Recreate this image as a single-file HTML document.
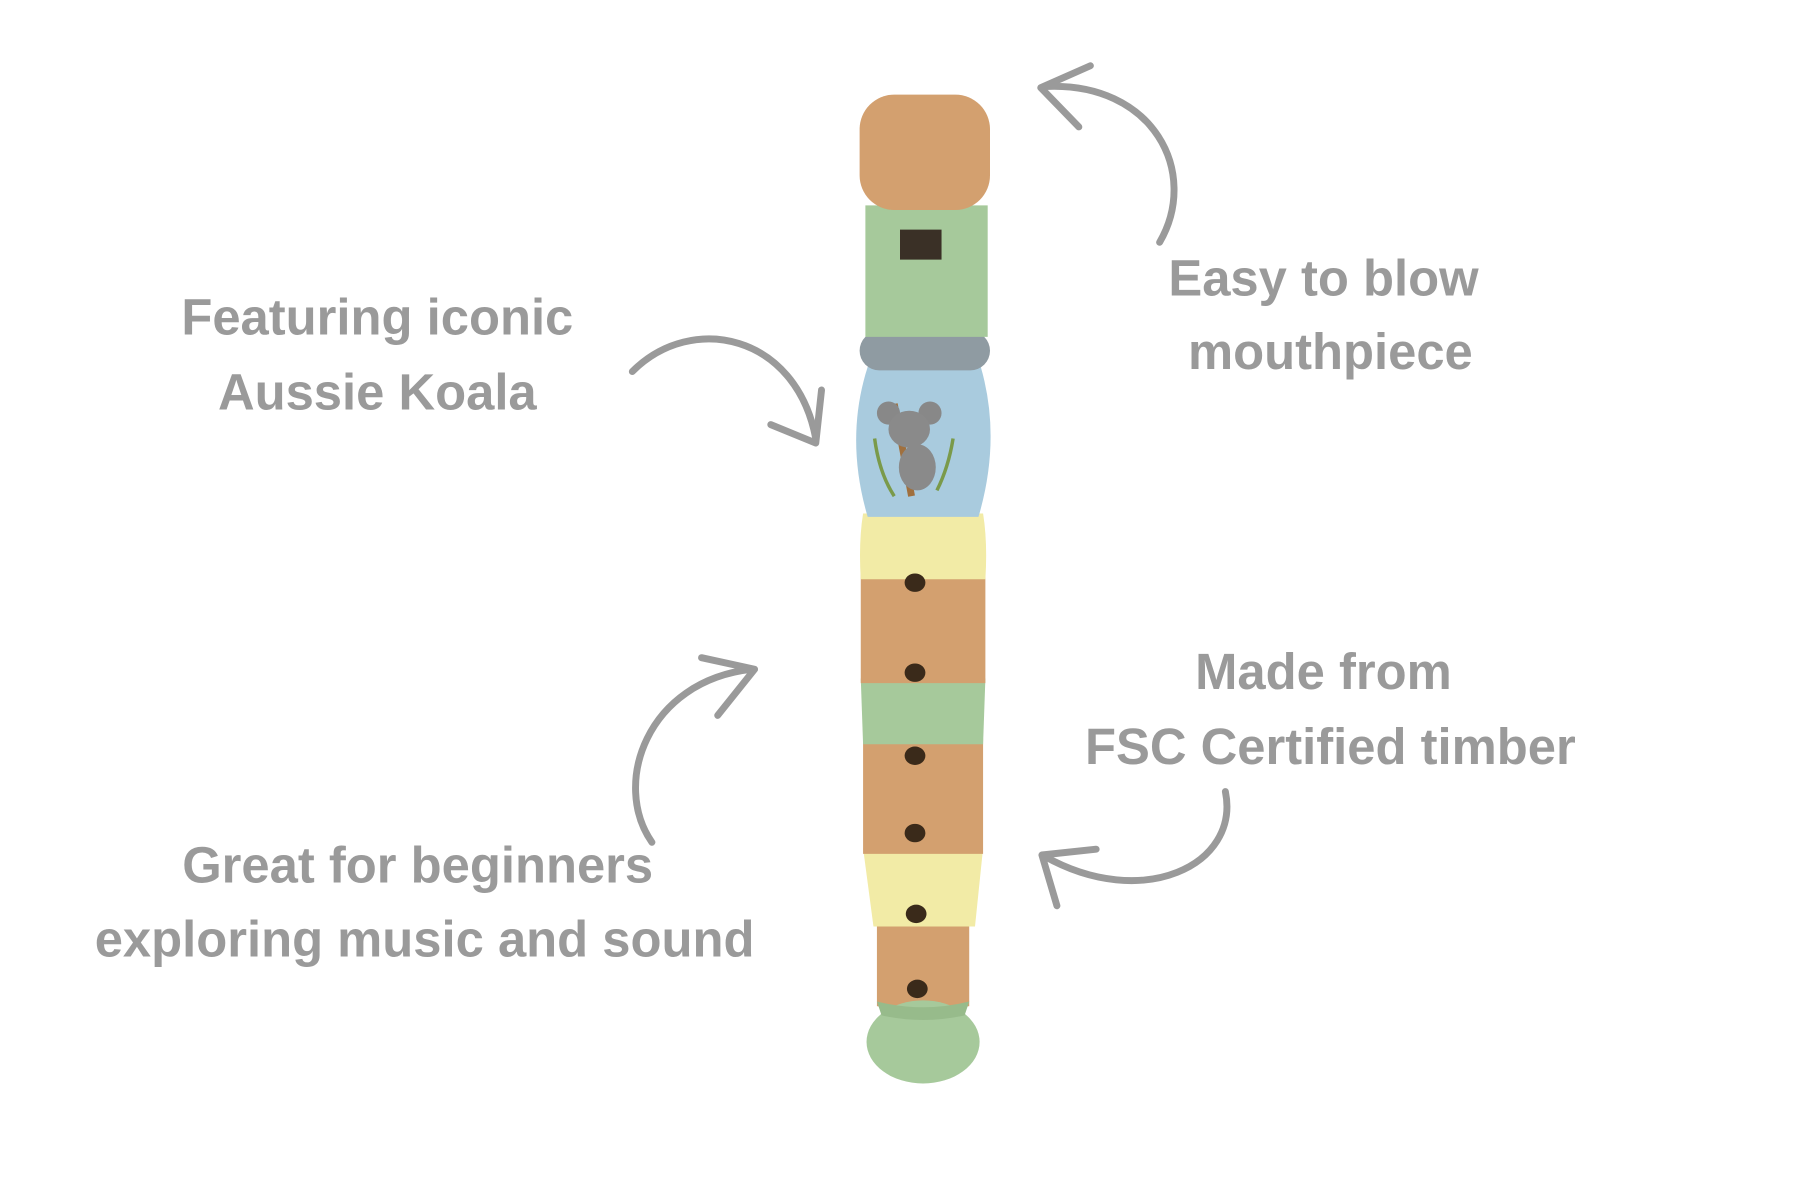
<!DOCTYPE html>
<html><head><meta charset="utf-8"><style>
html,body{margin:0;padding:0;background:#fff;width:1800px;height:1200px;overflow:hidden}
svg{display:block}
text{font-family:"Liberation Sans",sans-serif;font-weight:bold;fill:#9a9a9a;font-size:44px;text-anchor:middle}
</style></head><body>
<svg width="1800" height="1200" viewBox="0 0 1560 1040" xmlns="http://www.w3.org/2000/svg">
<rect width="1560" height="1040" fill="#fff"/>
<path d="M760 800 L840 800 L840 872 Q800 880 760 872 Z" fill="#d3a06f"/>
<ellipse cx="800" cy="903" rx="49" ry="36" fill="#a6c99b"/>
<path d="M760 868 Q800 878 840 868 L836 880 Q800 888 764 880 Z" fill="#97bb8b"/>
<path d="M748 735 L852 735 L845 803 L757 803 Z" fill="#f2eba6"/>
<path d="M748 640 L852 640 L852 740 L748 740 Z" fill="#d3a06f"/>
<path d="M746 588 L854 588 L852 645 L748 645 Z" fill="#a6c99b"/>
<path d="M746 498 L854 498 L854 592 L746 592 Z" fill="#d3a06f"/>
<path d="M748 445 L852 445 Q856 470 854 502 L746 502 Q744 470 748 445 Z" fill="#f2eba6"/>
<path d="M752 318 L850 318 Q868 380 848 448 L752 448 Q732 380 752 318 Z" fill="#a9cbde"/>
<rect x="745" y="287" width="113" height="34" rx="17" fill="#8f9ba2"/>
<path d="M750 178 L856 178 L856 292 L750 292 Z" fill="#a6c99b"/>
<rect x="780" y="199" width="36" height="26" fill="#3a3026"/>
<rect x="745" y="82" width="113" height="100" rx="30" fill="#d3a06f"/>
<path d="M775 350 L790 430" stroke="#a0703e" stroke-width="6"/>
<circle cx="770" cy="358" r="10" fill="#888"/><circle cx="806" cy="358" r="10" fill="#888"/>
<ellipse cx="788" cy="372" rx="18" ry="16" fill="#8a8a8a"/>
<ellipse cx="795" cy="405" rx="16" ry="20" fill="#8a8a8a"/>
<path d="M758 380 Q762 410 775 430 M826 380 Q822 405 812 425" stroke="#7a9a4a" stroke-width="3" fill="none"/>
<g fill="#3a2a1a">
<ellipse cx="793" cy="505" rx="9" ry="8"/><ellipse cx="793" cy="583" rx="9" ry="8"/>
<ellipse cx="793" cy="655" rx="9" ry="8"/><ellipse cx="793" cy="722" rx="9" ry="8"/>
<ellipse cx="794" cy="792" rx="9" ry="8"/><ellipse cx="795" cy="857" rx="9" ry="8"/>
</g>
<g stroke="#9a9a9a" stroke-width="6" fill="none" stroke-linecap="round" stroke-linejoin="round">
<path d="M548 322 C600 270 690 290 707 380"/><path d="M668 368 L707 384 L712 338"/>
<path d="M1005 210 C1040 150 1000 70 905 75"/><path d="M945 57 L902 76 L935 110"/>
<path d="M565 730 C530 680 560 590 652 580"/><path d="M608 570 L654 580 L622 620"/>
<path d="M1062 686 C1075 750 990 790 905 742"/><path d="M916 785 L903 741 L950 736"/>
</g>
<text x="327" y="290">Featuring iconic</text>
<text x="327" y="355">Aussie Koala</text>
<text x="1147" y="256">Easy to blow</text>
<text x="1153" y="320">mouthpiece</text>
<text x="1147" y="597">Made from</text>
<text x="1153" y="662">FSC Certified timber</text>
<text x="362" y="765">Great for beginners</text>
<text x="368" y="829">exploring music and sound</text>
</svg>
</body></html>
